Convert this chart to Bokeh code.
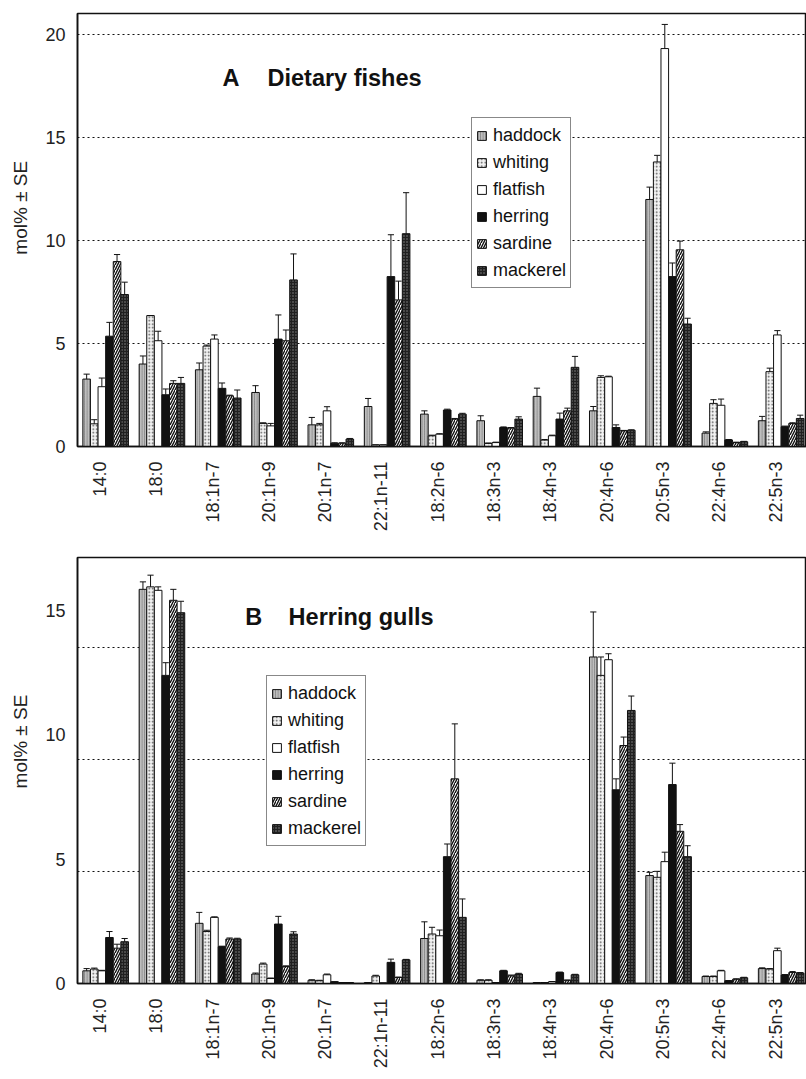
from math import pi
from bokeh.plotting import figure
from bokeh.models import Range1d, FixedTicker, Legend, LegendItem, Label
from bokeh.layouts import column
from bokeh.embed import file_html
from bokeh.resources import INLINE

categories = ["14:0", "18:0", "18:1n-7", "20:1n-9", "20:1n-7", "22:1n-11", "18:2n-6",
              "18:3n-3", "18:4n-3", "20:4n-6", "20:5n-3", "22:4n-6", "22:5n-3"]
series = ["haddock", "whiting", "flatfish", "herring", "sardine", "mackerel"]

# Panel A: dietary fishes (mol% and SE)
A_haddock = [3.27, 4.0, 3.72, 2.62, 1.05, 1.94, 1.57, 1.25, 2.43, 1.73, 11.98, 0.65, 1.25]
A_haddock_se = [0.24, 0.39, 0.33, 0.33, 0.36, 0.39, 0.16, 0.24, 0.40, 0.21, 0.60, 0.06, 0.21]
A_whiting = [1.10, 6.35, 4.87, 1.12, 1.05, 0.08, 0.52, 0.15, 0.31, 3.35, 13.8, 2.09, 3.63]
A_whiting_se = [0.20, 0.0, 0.05, 0.03, 0.07, 0.0, 0.03, 0.02, 0.03, 0.08, 0.32, 0.18, 0.17]
A_flatfish = [2.90, 5.13, 5.21, 1.00, 1.73, 0.08, 0.60, 0.19, 0.52, 3.38, 19.3, 2.00, 5.41]
A_flatfish_se = [0.42, 0.46, 0.20, 0.12, 0.20, 0.0, 0.02, 0.02, 0.03, 0.03, 1.17, 0.30, 0.21]
A_herring = [5.35, 2.51, 2.82, 5.21, 0.16, 8.24, 1.77, 0.92, 1.33, 0.92, 8.24, 0.32, 0.96]
A_herring_se = [0.67, 0.28, 0.26, 1.17, 0.02, 2.03, 0.04, 0.03, 0.29, 0.13, 0.66, 0.02, 0.03]
A_sardine = [8.97, 3.06, 2.46, 5.13, 0.16, 7.11, 1.33, 0.89, 1.73, 0.76, 9.54, 0.19, 1.12]
A_sardine_se = [0.34, 0.13, 0.03, 0.52, 0.02, 0.91, 0.03, 0.03, 0.13, 0.02, 0.42, 0.02, 0.03]
A_mackerel = [7.37, 3.06, 2.35, 8.08, 0.36, 10.32, 1.57, 1.33, 3.84, 0.79, 5.94, 0.23, 1.36]
A_mackerel_se = [0.60, 0.29, 0.39, 1.26, 0.03, 1.99, 0.04, 0.11, 0.53, 0.02, 0.28, 0.02, 0.16]

# Panel B: herring gulls (mol% and SE)
B_haddock = [0.51, 15.85, 2.42, 0.38, 0.13, 0.04, 1.81, 0.13, 0.04, 13.13, 4.34, 0.28, 0.60]
B_haddock_se = [0.09, 0.30, 0.44, 0.04, 0.02, 0.0, 0.67, 0.02, 0.0, 1.81, 0.13, 0.02, 0.03]
B_whiting = [0.58, 15.95, 2.09, 0.78, 0.11, 0.30, 1.99, 0.13, 0.04, 12.39, 4.27, 0.28, 0.58]
B_whiting_se = [0.04, 0.47, 0.05, 0.04, 0.02, 0.03, 0.27, 0.02, 0.0, 0.74, 0.24, 0.02, 0.02]
B_flatfish = [0.51, 15.81, 2.66, 0.20, 0.35, 0.02, 1.92, 0.04, 0.07, 13.02, 4.90, 0.51, 1.32]
B_flatfish_se = [0.02, 0.14, 0.02, 0.02, 0.03, 0.0, 0.23, 0.0, 0.01, 0.24, 0.38, 0.02, 0.10]
B_herring = [1.85, 12.39, 1.48, 2.39, 0.07, 0.85, 5.10, 0.51, 0.44, 7.79, 8.00, 0.11, 0.34]
B_herring_se = [0.24, 0.51, 0.02, 0.31, 0.0, 0.13, 0.51, 0.02, 0.02, 0.44, 0.86, 0.01, 0.02]
B_sardine = [1.42, 15.41, 1.79, 0.68, 0.04, 0.24, 8.23, 0.31, 0.13, 9.57, 6.12, 0.17, 0.44]
B_sardine_se = [0.16, 0.44, 0.04, 0.03, 0.0, 0.02, 2.21, 0.03, 0.01, 0.34, 0.27, 0.02, 0.04]
B_mackerel = [1.68, 14.91, 1.79, 1.99, 0.04, 0.95, 2.66, 0.38, 0.35, 10.98, 5.10, 0.23, 0.42]
B_mackerel_se = [0.13, 0.46, 0.03, 0.09, 0.0, 0.02, 0.74, 0.03, 0.02, 0.58, 0.44, 0.02, 0.02]

FONT = "Liberation Sans"

STYLES = {
    "haddock": dict(fill_color="#bdbdbd", hatch_pattern="vertical_line", hatch_color="#6e6e6e",
                    hatch_scale=2.5, hatch_weight=0.7),
    "whiting": dict(fill_color="#f2f2f2", hatch_pattern="dot", hatch_color="#555555",
                    hatch_scale=3.5, hatch_weight=0.8),
    "flatfish": dict(fill_color="white"),
    "herring": dict(fill_color="#111111"),
    "sardine": dict(fill_color="white", hatch_pattern="right_diagonal_line", hatch_color="#111111",
                    hatch_scale=5, hatch_weight=1.4),
    "mackerel": dict(fill_color="#202020", hatch_pattern="dot", hatch_color="#8a8a8a",
                     hatch_scale=3, hatch_weight=0.8),
}


def make_panel(means, ses, ymax, yticks, gridticks, height, btop, bbottom,
               letter, ttext, lx, tx, ty, legend_loc, ylab_y):
    p = figure(width=806, height=height, output_backend="svg", toolbar_location=None,
               x_range=Range1d(0, 12.95), y_range=Range1d(0, ymax),
               min_border_left=77, min_border_right=0, min_border_top=btop,
               min_border_bottom=bbottom)
    p.background_fill_color = "white"
    p.border_fill_color = "white"
    p.outline_line_color = "#111111"
    p.outline_line_width = 1.5

    p.xgrid.visible = False
    p.ygrid.ticker = FixedTicker(ticks=gridticks)
    p.ygrid.grid_line_color = "#111111"
    p.ygrid.grid_line_dash = "2 3"
    p.ygrid.grid_line_width = 1.2

    bw = 0.135
    cw = 0.055
    renderers = []
    for j, s in enumerate(series):
        xs = [i + 0.5 + (j - 2.5) * bw for i in range(len(categories))]
        vals = means[s]
        tops = [v + e for v, e in zip(vals, ses[s])]
        r = p.vbar(x=xs, top=vals, bottom=0, width=bw, line_color="#111111", line_width=1,
                   **STYLES[s])
        p.segment(x0=xs, y0=vals, x1=xs, y1=tops, line_color="#111111", line_width=1)
        p.segment(x0=[x - cw for x in xs], y0=tops, x1=[x + cw for x in xs], y1=tops,
                  line_color="#111111", line_width=1)
        renderers.append(r)

    for ax in (p.xaxis[0], p.yaxis[0]):
        ax.axis_line_color = "#111111"
        ax.axis_line_width = 1.6
        ax.major_tick_in = 0
        ax.major_tick_out = 0
        ax.minor_tick_in = 0
        ax.minor_tick_out = 0
        ax.major_label_text_font = FONT
        ax.major_label_text_font_size = "18px"
        ax.major_label_text_color = "#222222"

    p.yaxis.ticker = FixedTicker(ticks=yticks)
    p.yaxis.major_label_standoff = 12
    xt = [i + 0.4 for i in range(len(categories))]
    p.xaxis.ticker = FixedTicker(ticks=xt)
    p.xaxis.major_label_overrides = {t: c for t, c in zip(xt, categories)}
    p.xaxis.major_label_orientation = pi / 2
    p.xaxis.major_label_standoff = 15

    # y title as a label living in the left side panel (not clipped to the frame)
    p.add_layout(Label(x=-1.01, y=ylab_y, text="mol% ± SE", angle=pi / 2, text_align="center",
                       text_baseline="middle", text_font=FONT, text_font_size="19px",
                       text_color="#222222"), "left")

    legend = Legend(items=[LegendItem(label=s, renderers=[r]) for s, r in zip(series, renderers)],
                    location=legend_loc, orientation="vertical")
    legend.label_text_font = FONT
    legend.label_text_font_size = "18px"
    legend.label_text_color = "#111111"
    legend.glyph_width = 11
    legend.glyph_height = 11
    legend.label_height = 26
    legend.label_standoff = 6
    legend.spacing = 1
    legend.padding = 4
    legend.margin = 0
    legend.border_line_color = "#111111"
    legend.border_line_width = 1
    legend.background_fill_color = "white"
    legend.background_fill_alpha = 1
    p.add_layout(legend)

    p.add_layout(Label(x=lx, y=ty, text=letter, text_font=FONT, text_font_size="23.5px",
                       text_font_style="bold", text_color="#111111", text_baseline="alphabetic"))
    p.add_layout(Label(x=tx, y=ty, text=ttext, text_font=FONT, text_font_size="23.5px",
                       text_font_style="bold", text_color="#111111", text_baseline="alphabetic"))
    return p


meansA = dict(haddock=A_haddock, whiting=A_whiting, flatfish=A_flatfish,
              herring=A_herring, sardine=A_sardine, mackerel=A_mackerel)
sesA = dict(haddock=A_haddock_se, whiting=A_whiting_se, flatfish=A_flatfish_se,
            herring=A_herring_se, sardine=A_sardine_se, mackerel=A_mackerel_se)
meansB = dict(haddock=B_haddock, whiting=B_whiting, flatfish=B_flatfish,
              herring=B_herring, sardine=B_sardine, mackerel=B_mackerel)
sesB = dict(haddock=B_haddock_se, whiting=B_whiting_se, flatfish=B_flatfish_se,
            herring=B_herring_se, sardine=B_sardine_se, mackerel=B_mackerel_se)

pA = make_panel(meansA, sesA, 21.0, [0, 5, 10, 15, 20], [5, 10, 15, 20], 548, 13, 102,
                "A", "Dietary fishes", 2.575, 3.375, 17.88, (394, 158), 11.58)
pB = make_panel(meansB, sesB, 17.13, [0, 5, 10, 15], [4.5, 9, 13.5], 531, 9, 96,
                "B", "Herring gulls", 2.98, 3.75, 14.72, (189, 137), 9.73)

layout = column(pA, pB, spacing=0)
open("out.html", "w").write(file_html(layout, INLINE))
